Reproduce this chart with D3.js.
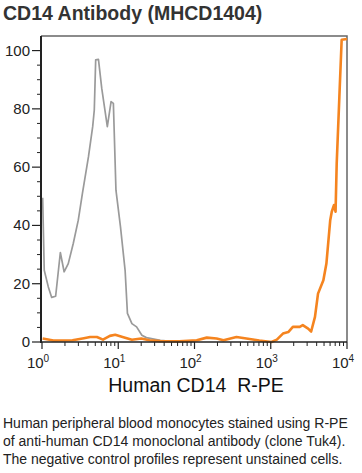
<!DOCTYPE html>
<html>
<head>
<meta charset="utf-8">
<script src="https://cdn.jsdelivr.net/npm/d3@7"></script>
<style>
  body { margin: 0; background: #fff; font-family: "Liberation Sans", Arial, sans-serif; }
  #chart { position: relative; width: 362px; height: 473px; }
</style>
</head>
<body>
<div id="chart"></div>
<script>
// unstained control (grey) - fluorescence vs % of max
const controlX = [1.02, 1.07, 1.21, 1.34, 1.51, 1.74, 1.95, 2.21, 2.57, 2.99, 3.39, 4.07, 4.62, 4.85, 5.06, 5.50,
    6.07, 7.19, 8.05, 8.63, 9.33, 10.7, 12.3, 13.2, 15.1, 17.4, 20.4, 23.4, 35.5, 50, 100];
const controlY = [49.5, 24.6, 18.9, 15.3, 15.7, 30.7, 24.1, 26.9, 33.8, 41.8, 51, 63.6, 73.9, 79.6, 96.8, 97,
    87.1, 73.9, 82.5, 81.9, 52.1, 39.5, 24.6, 9.8, 6.3, 5.2, 2.3, 1.5, 0.6, 0.2, 0.1];

// CD14 R-PE stained (orange)
const stainedX = [1.02, 1.41, 2.51, 3.55, 4.27, 5.25, 6.31, 7.76, 9.12, 12.3, 15.1, 20, 25.7, 35.5, 63.1, 107,
    145, 195, 240, 355, 479, 708, 1023, 1202, 1445, 1698, 1950, 2399, 2630, 3090, 3388, 3802, 4169, 4898, 5370,
    6026, 6310, 6761, 7079, 7328, 7943, 8511, 10000];
const stainedY = [1.2, 0.5, 0.6, 1.3, 1.7, 1.7, 0.8, 2.1, 2.5, 1.5, 0.8, 1.2, 0.6, 0.3, 0.2, 0.6,
    1.5, 1.2, 0.6, 1.7, 1.2, 0.5, 0, 0.8, 2.9, 3.4, 5.2, 5.2, 5.8, 4.6, 3.6, 8.6, 16.6, 21.2, 26.9,
    41.8, 44.7, 47, 44.7, 61.3, 84.2, 103.7, 104];

const yTicks = [0, 20, 40, 60, 80, 100];
const xDecades = [0, 1, 2, 3, 4];

const title = "CD14 Antibody (MHCD1404)";
const xTitle = "Human CD14  R-PE";
const caption = [
    "Human peripheral blood monocytes stained using R-PE",
    "of anti-human CD14 monoclonal antibody (clone Tuk4).",
    "The negative control profiles represent unstained cells."
];

const W = 362, H = 473;
const plot = { left: 41, right: 347, top: 36, bottom: 342 };

const svg = d3.select("#chart").append("svg")
    .attr("width", W).attr("height", H);

svg.append("text")
    .attr("x", 3).attr("y", 20)
    .style("font-size", "19.5px")
    .style("font-weight", "bold")
    .attr("fill", "#333")
    .text(title);

const x = d3.scaleLog().domain([1, 10000]).range([plot.left + 1, plot.right]);
const y = d3.scaleLinear().domain([0, 105]).range([plot.bottom, plot.top]);

// frame (top and right in grey)
svg.append("path")
    .attr("d", `M${plot.left},${plot.top}H${plot.right}V${plot.bottom}`)
    .attr("fill", "none")
    .attr("stroke", "#666")
    .attr("stroke-width", 1.5);

// curves
const line = d3.line().x(d => x(d[0])).y(d => y(d[1]));

svg.append("path")
    .datum(d3.zip(controlX, controlY))
    .attr("d", line)
    .attr("fill", "none")
    .attr("stroke", "#9a9a9a")
    .attr("stroke-width", 1.7)
    .attr("stroke-linejoin", "round");

svg.append("path")
    .datum(d3.zip(stainedX, stainedY))
    .attr("d", line)
    .attr("fill", "none")
    .attr("stroke", "#f5841f")
    .attr("stroke-width", 2.6)
    .attr("stroke-linejoin", "round");

// y axis
const yAxis = svg.append("g").attr("transform", `translate(${plot.left},0)`);
yAxis.selectAll(".minor")
    .data(d3.range(0, 101, 5).filter(v => v % 20 !== 0))
    .enter().append("line")
    .attr("x1", -4).attr("x2", 0)
    .attr("y1", d => y(d)).attr("y2", d => y(d))
    .attr("stroke", "#222").attr("stroke-width", 1);
yAxis.selectAll(".major")
    .data(yTicks)
    .enter().append("line")
    .attr("x1", -9).attr("x2", 0)
    .attr("y1", d => y(d)).attr("y2", d => y(d))
    .attr("stroke", "#222").attr("stroke-width", 1.2);
yAxis.selectAll("text")
    .data(yTicks)
    .enter().append("text")
    .attr("x", -11)
    .attr("y", d => y(d) + 5)
    .attr("text-anchor", "end")
    .style("font-size", "15px")
    .attr("fill", "#222")
    .text(d => d);
yAxis.append("line")
    .attr("x1", 0).attr("x2", 0)
    .attr("y1", plot.top).attr("y2", plot.bottom + 1)
    .attr("stroke", "#222").attr("stroke-width", 2);

// x axis
const xAxis = svg.append("g").attr("transform", `translate(0,${plot.bottom})`);
const minorX = [];
xDecades.slice(0, -1).forEach(e => {
    for (let k = 2; k <= 9; k++) minorX.push(k * Math.pow(10, e));
});
xAxis.selectAll(".minor")
    .data(minorX)
    .enter().append("line")
    .attr("x1", d => x(d)).attr("x2", d => x(d))
    .attr("y1", 0).attr("y2", 4)
    .attr("stroke", "#222").attr("stroke-width", 1);
xAxis.selectAll(".major")
    .data(xDecades)
    .enter().append("line")
    .attr("x1", d => x(Math.pow(10, d))).attr("x2", d => x(Math.pow(10, d)))
    .attr("y1", 0).attr("y2", 7)
    .attr("stroke", "#222").attr("stroke-width", 1.2);
const xl = xAxis.selectAll("text")
    .data(xDecades)
    .enter().append("text")
    .attr("x", d => x(Math.pow(10, d)) - 4)
    .attr("y", 26)
    .attr("text-anchor", "middle")
    .style("font-size", "15px")
    .attr("fill", "#222");
xl.append("tspan").text("10");
xl.append("tspan").attr("dy", -6).style("font-size", "10px").text(d => d);
xAxis.append("line")
    .attr("x1", plot.left).attr("x2", plot.right)
    .attr("y1", 0).attr("y2", 0)
    .attr("stroke", "#222").attr("stroke-width", 1.5);

svg.append("text")
    .attr("x", 196).attr("y", 392)
    .attr("text-anchor", "middle")
    .style("font-size", "19.5px")
    .attr("fill", "#111")
    .attr("xml:space", "preserve")
    .style("white-space", "pre")
    .text(xTitle);

// caption
svg.append("g").selectAll("text")
    .data(caption)
    .enter().append("text")
    .attr("x", 3)
    .attr("y", (d, i) => 428 + i * 18)
    .style("font-size", "14px")
    .attr("fill", "#222")
    .text(d => d);
</script>
</body>
</html>
